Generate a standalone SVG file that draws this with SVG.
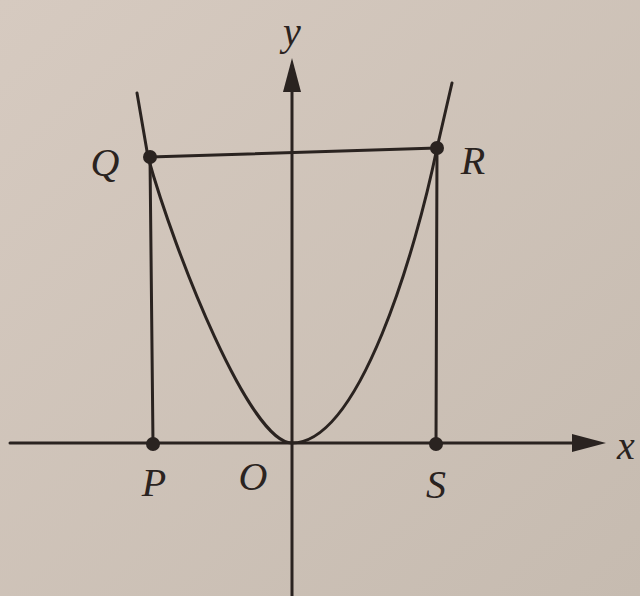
<svg xmlns="http://www.w3.org/2000/svg" width="640" height="596" viewBox="0 0 640 596">
<defs>
<linearGradient id="bg" x1="0" y1="0" x2="1" y2="1">
<stop offset="0" stop-color="#d6cac0"/>
<stop offset="1" stop-color="#c6bbb0"/>
</linearGradient>
<style>
.ln{stroke:#2a2320;stroke-width:3;fill:none;stroke-linecap:round;stroke-linejoin:round}
.dot{fill:#2a2320}
.lb{font-family:"Liberation Serif","DejaVu Serif",serif;font-style:italic;font-size:40px;fill:#2a2320;text-anchor:middle;dominant-baseline:central}
.ah{fill:#2a2320}
</style>
</defs>
<rect width="640" height="596" fill="url(#bg)"/>
<g id="connectors">
<line class="ln" x1="10" y1="443" x2="580" y2="443"/>
<polygon class="ah" points="606,443 572,434 572,452"/>
<line class="ln" x1="292" y1="596" x2="292" y2="85"/>
<polygon class="ah" points="292,58 283,92 301,92"/>
<path class="ln" d="M137,93 L148,157 C175,254 250,443 292,443 C360,443 416,250 437,148 L452,83"/>
<line class="ln" x1="150" y1="157" x2="437" y2="148"/>
<line class="ln" x1="150" y1="157" x2="153" y2="444"/>
<line class="ln" x1="437" y1="148" x2="436" y2="444"/>
</g>
<g id="Q"><circle class="dot" cx="150" cy="157" r="7"/><text class="lb" x="105" y="162">Q</text></g>
<g id="R"><circle class="dot" cx="437" cy="148" r="7"/><text class="lb" x="473" y="160">R</text></g>
<g id="P"><circle class="dot" cx="153" cy="444" r="7"/><text class="lb" x="154" y="482">P</text></g>
<g id="O"><text class="lb" x="253" y="476">O</text></g>
<g id="S"><circle class="dot" cx="436" cy="444" r="7"/><text class="lb" x="436" y="484">S</text></g>
<g id="xlabel"><text class="lb" x="626" y="445">x</text></g>
<g id="ylabel"><text class="lb" x="292" y="31">y</text></g>
</svg>
